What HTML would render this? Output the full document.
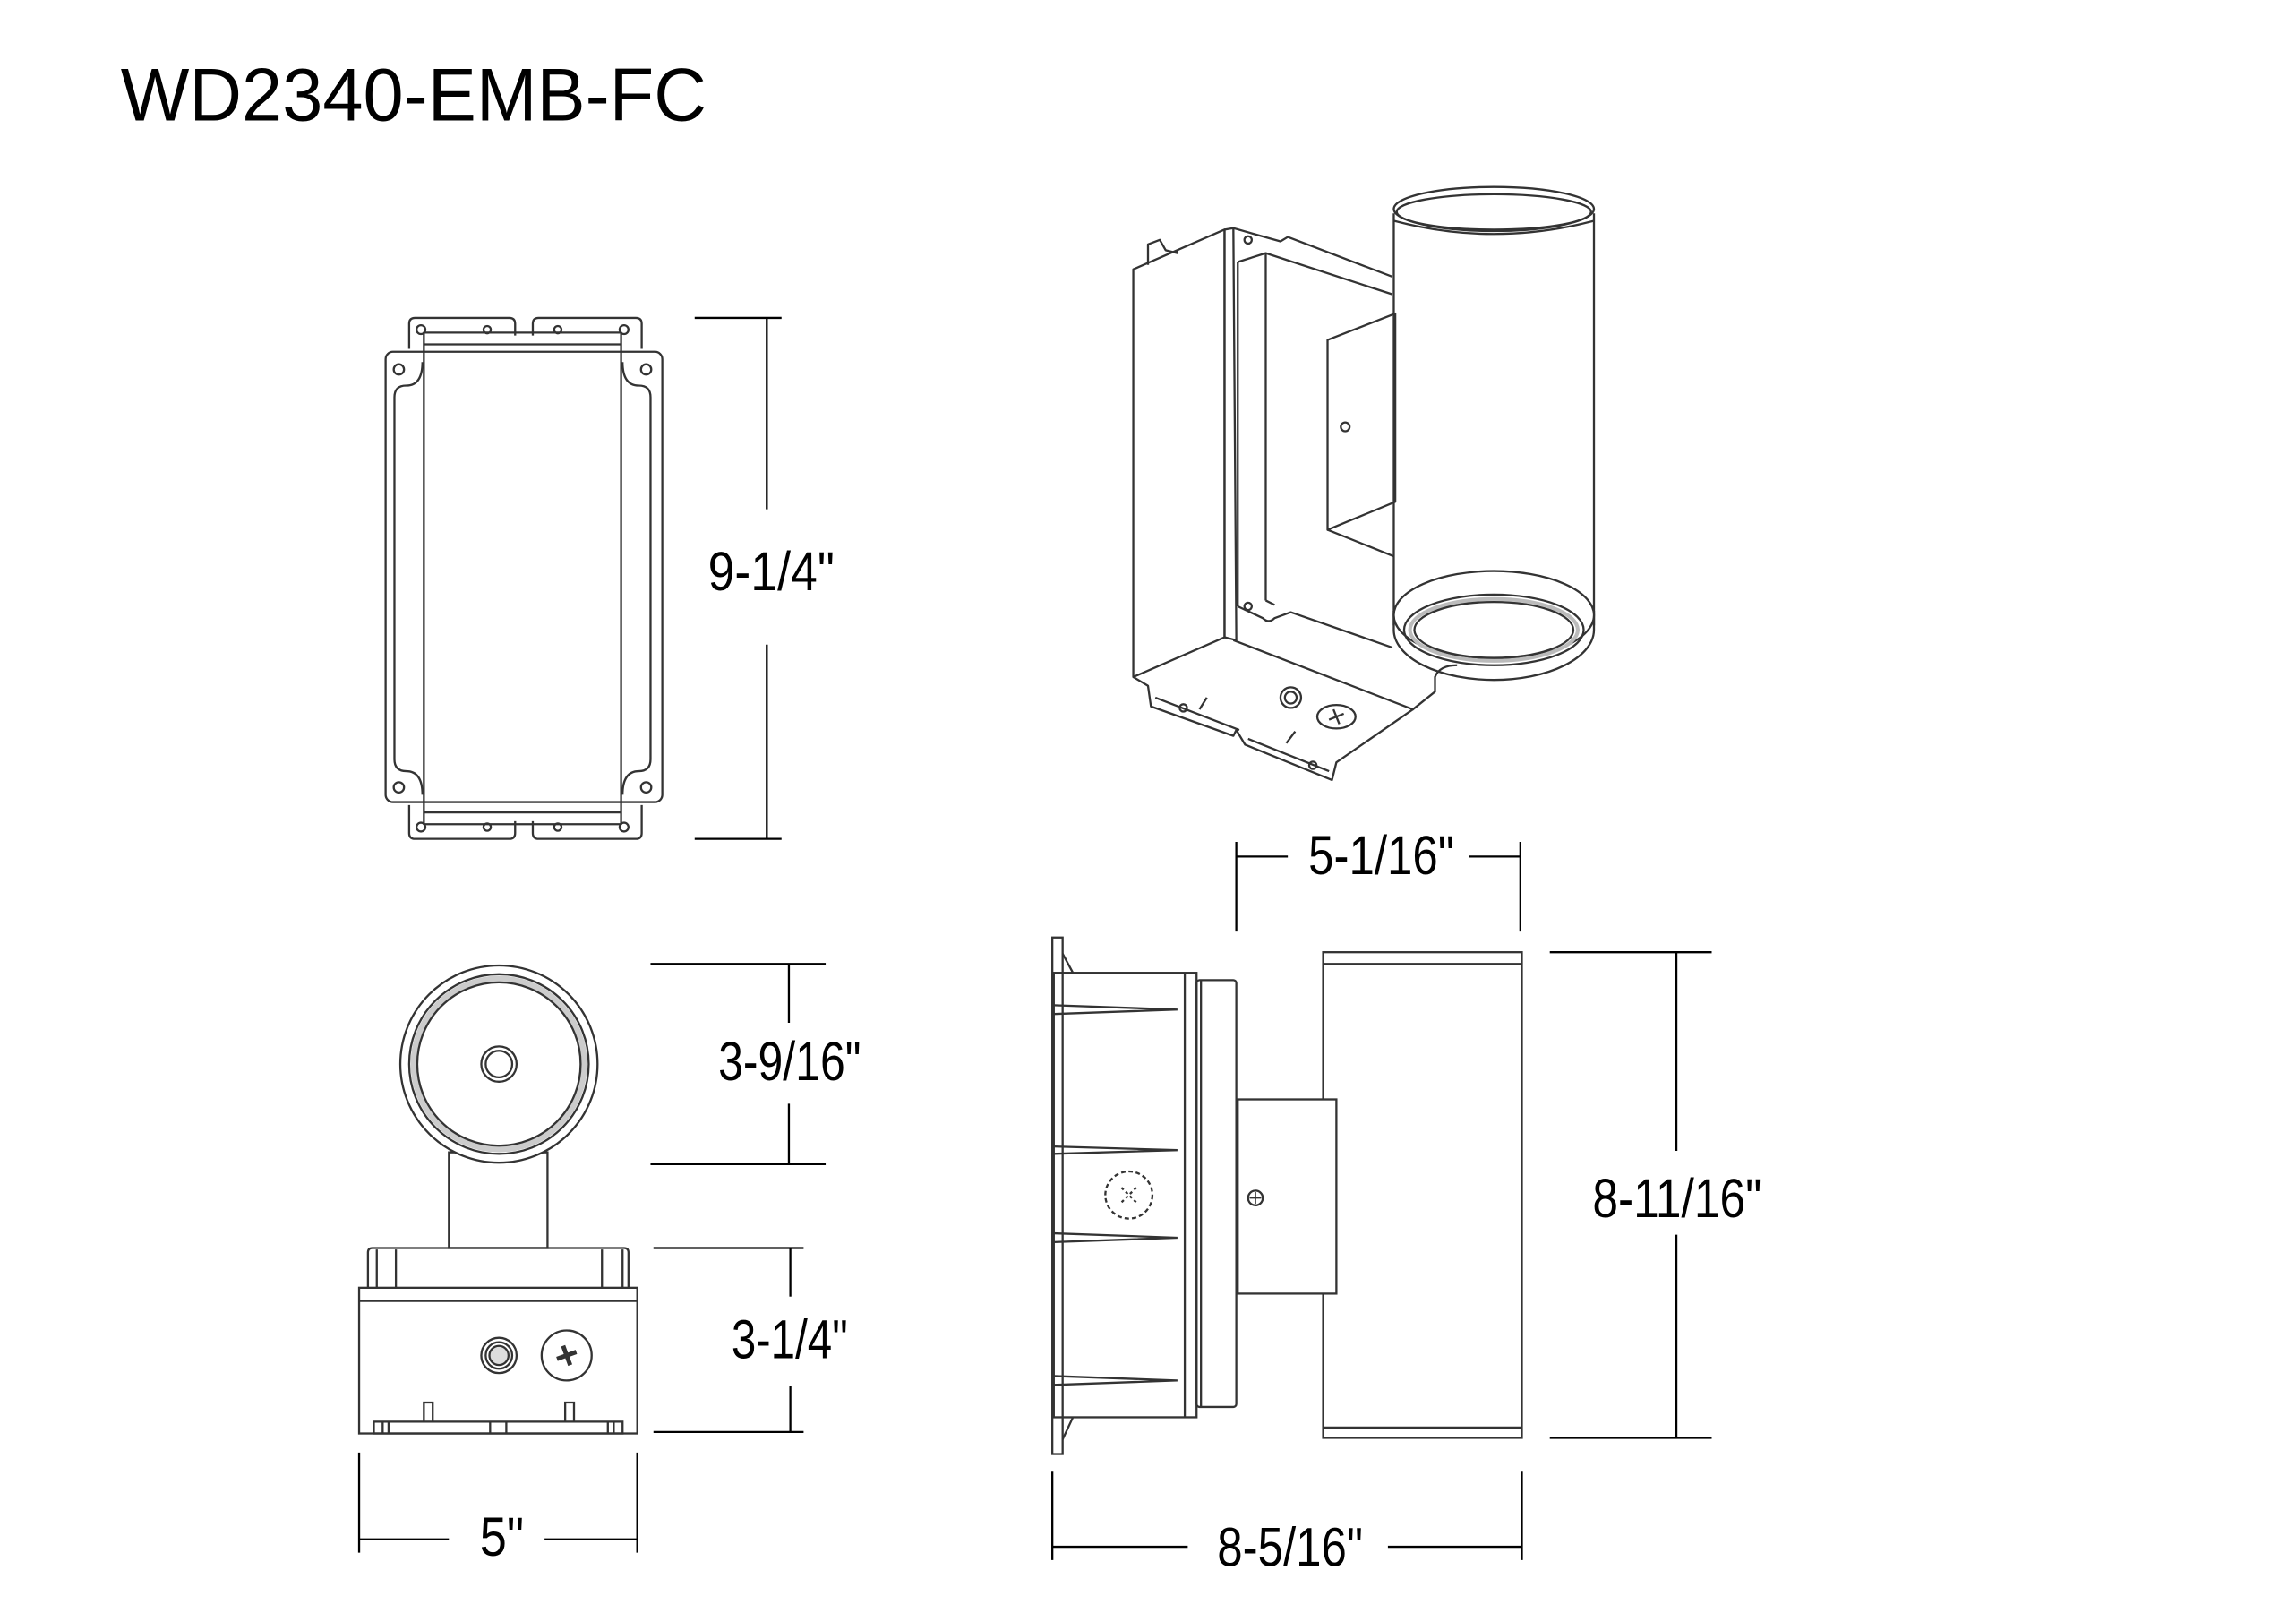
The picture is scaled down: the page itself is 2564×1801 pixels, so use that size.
<!DOCTYPE html>
<html><head><meta charset="utf-8"><style>
html,body{margin:0;padding:0;background:#fff;}
svg{display:block;}
text{font-family:"Liberation Sans Narrow","Liberation Sans",sans-serif;fill:#000;}
</style></head><body>
<svg width="2564" height="1801" viewBox="0 0 1560 1096" preserveAspectRatio="none" xmlns="http://www.w3.org/2000/svg">
<rect width="1560" height="1096" fill="#fff"/>
<text x="82" y="82" font-size="51" textLength="398" lengthAdjust="spacingAndGlyphs" style="font-family:'Liberation Sans',sans-serif">WD2340-EMB-FC</text>

<g fill="none" stroke="#333" stroke-width="1.4" stroke-linejoin="round">
<path d="M278,237 V220 Q278,216 282,216 H346 Q350,216 350,220 V228"/>
<path d="M362,228 V220 Q362,216 366,216 H432 Q436,216 436,220 V237"/>
<path d="M278,547 V566 Q278,570 282,570 H346 Q350,570 350,566 V558"/>
<path d="M362,558 V566 Q362,570 366,570 H432 Q436,570 436,566 V547"/>
<rect x="262" y="239" width="188" height="306" rx="5"/>
<path d="M287,246 Q287,262 276,262 Q268,262 268,270 V516 Q268,524 276,524 Q287,524 287,540"/>
<path d="M423,246 Q423,262 434,262 Q442,262 442,270 V516 Q442,524 434,524 Q423,524 423,540"/>
<rect x="288" y="226" width="134" height="334"/>
<line x1="288" y1="234" x2="422" y2="234"/>
<line x1="288" y1="552" x2="422" y2="552"/>
<circle cx="271" cy="251" r="3.5"/><circle cx="439" cy="251" r="3.5"/>
<circle cx="271" cy="535" r="3.5"/><circle cx="439" cy="535" r="3.5"/>
<circle cx="286" cy="224" r="3"/><circle cx="424" cy="224" r="3"/>
<circle cx="286" cy="562" r="3"/><circle cx="424" cy="562" r="3"/>
<circle cx="331" cy="224" r="2.5"/><circle cx="379" cy="224" r="2.5"/>
<circle cx="331" cy="562" r="2.5"/><circle cx="379" cy="562" r="2.5"/>
</g>
<g stroke="#000" stroke-width="1.4">
<line x1="472" y1="216" x2="531" y2="216"/><line x1="472" y1="570" x2="531" y2="570"/>
<line x1="521" y1="216" x2="521" y2="346"/><line x1="521" y1="438" x2="521" y2="570"/>
</g>
<text x="481" y="401" font-size="37" textLength="86" lengthAdjust="spacingAndGlyphs">9-1/4"</text>

<g fill="none" stroke="#333" stroke-width="1.4" stroke-linejoin="round">
<path d="M780,180 V166 L788,163 L792,170 L800,172 L800,170"/>
<polygon points="770,183 832,156 832,433 770,460"/>
<polygon points="832,156 838,155 840,435 832,433"/>
<path d="M838,155 L852,159 L870,164 L875,161 L946,188"/>
<path d="M841,178 L860,172 L946,200"/>
<line x1="841" y1="178" x2="841" y2="412"/>
<line x1="860" y1="172" x2="860" y2="408"/>
<path d="M841,412 L858,420 Q862,424 866,420 L877,416 L946,440"/>
<path d="M860,408 L866,411"/>
<path d="M838,435 L960,482 L975,470 L975,460 Q978,452 990,452"/>
<path d="M770,460 L780,466 L782,480 L838,500 L840,496 L846,506 L905,530 L908,518 L960,482"/>
<path d="M785,474 L842,496 M848,502 L903,524"/>
<circle cx="804" cy="481" r="2.5"/><circle cx="892" cy="520" r="2.5"/>
<path d="M815,482 L820,474 M874,505 L880,497"/>
<circle cx="877" cy="474" r="7"/><circle cx="877" cy="474" r="4"/>
<ellipse cx="908" cy="487" rx="13" ry="8"/>
<path d="M903,489 L913,485 M906,482 L910,492"/>
<polygon points="902,231 948,213 948,341 902,360"/>
<path d="M902,360 L947,378"/>
<circle cx="914" cy="290" r="3"/>
<circle cx="848" cy="163" r="2.5"/><circle cx="848" cy="412" r="2.5"/>
<path d="M947,145 V425 M1083,145 V425"/>
<ellipse cx="1015" cy="142" rx="68" ry="15" fill="#fff"/>
<ellipse cx="1015" cy="144" rx="66" ry="12"/>
<path d="M947,150 Q1015,168 1083,150"/>
<path d="M947,415 V428 A68,34 0 0 0 1083,428 V415"/>
<ellipse cx="1015" cy="418" rx="68" ry="30" fill="#fff"/>
<ellipse cx="1015" cy="428" rx="61" ry="24"/>
<ellipse cx="1015" cy="428" rx="57" ry="21" stroke="#bbb" stroke-width="2.5"/>
<ellipse cx="1015" cy="428" rx="54" ry="19"/>
</g>

<g fill="none" stroke="#333" stroke-width="1.4">
<rect x="305" y="783" width="67" height="65"/>
<circle cx="339" cy="723" r="67" fill="#fff"/>
<circle cx="339" cy="723" r="61"/>
<circle cx="339" cy="723" r="58" stroke="#ccc" stroke-width="4"/>
<circle cx="339" cy="723" r="55.5"/>
<circle cx="339" cy="723" r="12"/><circle cx="339" cy="723" r="9"/>
<path d="M250,875 V851 Q250,848 253,848 H424 Q427,848 427,851 V875"/>
<path d="M256,849 V875 M269,849 V875 M409,849 V875 M423,849 V875"/>
<rect x="244" y="875" width="189" height="99"/>
<line x1="244" y1="884" x2="433" y2="884"/>
<circle cx="339" cy="921" r="12"/><circle cx="339" cy="921" r="9"/><circle cx="339" cy="921" r="6.5" fill="#ddd"/>
<circle cx="385" cy="921" r="17"/>
<path d="M378,921 H392 M385,914 V928" stroke-width="3" transform="rotate(-20 385 921)"/>
<path d="M288,966 V953 H294 V966 M384,966 V953 H390 V966"/>
<rect x="254" y="966" width="169" height="8"/>
<path d="M260,966 V974 M264,966 V974 M333,966 V974 M344,966 V974 M413,966 V974 M417,966 V974"/>
</g>
<g stroke="#000" stroke-width="1.4">
<line x1="442" y1="655" x2="561" y2="655"/><line x1="442" y1="791" x2="561" y2="791"/>
<line x1="536" y1="655" x2="536" y2="695"/><line x1="536" y1="750" x2="536" y2="791"/>
<line x1="444" y1="848" x2="546" y2="848"/><line x1="444" y1="973" x2="546" y2="973"/>
<line x1="537" y1="848" x2="537" y2="881"/><line x1="537" y1="942" x2="537" y2="973"/>
<line x1="244" y1="987" x2="244" y2="1055"/><line x1="433" y1="987" x2="433" y2="1055"/>
<line x1="244" y1="1046" x2="305" y2="1046"/><line x1="370" y1="1046" x2="433" y2="1046"/>
</g>
<text x="488" y="734" font-size="37" textLength="97" lengthAdjust="spacingAndGlyphs">3-9/16"</text>
<text x="497" y="923" font-size="37" textLength="79" lengthAdjust="spacingAndGlyphs">3-1/4"</text>
<text x="326" y="1057" font-size="37" textLength="30" lengthAdjust="spacingAndGlyphs">5"</text>

<g fill="none" stroke="#333" stroke-width="1.4">
<rect x="715" y="637" width="7" height="351"/>
<path d="M722,648 L729,661 M722,978 L729,963"/>
<rect x="716" y="661" width="97" height="302"/>
<line x1="805" y1="661" x2="805" y2="963"/>
<rect x="813" y="666" width="27" height="290" rx="2"/>
<path d="M816,666 V956"/>
<path d="M716,683 L800,686 L716,689 M716,779 L800,781.5 L716,784 M716,838 L800,841 L716,844 M716,935 L800,938 L716,941"/>
<circle cx="767" cy="812" r="16" stroke-dasharray="3 2"/>
<path d="M762,807 L772,817 M772,807 L762,817" stroke-dasharray="2 2"/>
<rect x="899" y="647" width="135" height="330"/>
<line x1="899" y1="655" x2="1034" y2="655"/><line x1="899" y1="970" x2="1034" y2="970"/>
<rect x="841" y="747" width="67" height="132" fill="#fff"/>
<circle cx="853" cy="814" r="5"/>
<path d="M849,814 H857 M853,810 V818" stroke-width="1"/>
</g>
<g stroke="#000" stroke-width="1.4">
<line x1="840" y1="572" x2="840" y2="633"/><line x1="1033" y1="572" x2="1033" y2="633"/>
<line x1="840" y1="582" x2="875" y2="582"/><line x1="998" y1="582" x2="1033" y2="582"/>
<line x1="1053" y1="647" x2="1163" y2="647"/><line x1="1053" y1="977" x2="1163" y2="977"/>
<line x1="1139" y1="647" x2="1139" y2="782"/><line x1="1139" y1="839" x2="1139" y2="977"/>
<line x1="715" y1="1000" x2="715" y2="1060"/><line x1="1034" y1="1000" x2="1034" y2="1060"/>
<line x1="715" y1="1051" x2="807" y2="1051"/><line x1="943" y1="1051" x2="1034" y2="1051"/>
</g>
<text x="889" y="594" font-size="37" textLength="99" lengthAdjust="spacingAndGlyphs">5-1/16"</text>
<text x="1082" y="827" font-size="37" textLength="115" lengthAdjust="spacingAndGlyphs">8-11/16"</text>
<text x="827" y="1064" font-size="37" textLength="99" lengthAdjust="spacingAndGlyphs">8-5/16"</text>
</svg>
</body></html>
